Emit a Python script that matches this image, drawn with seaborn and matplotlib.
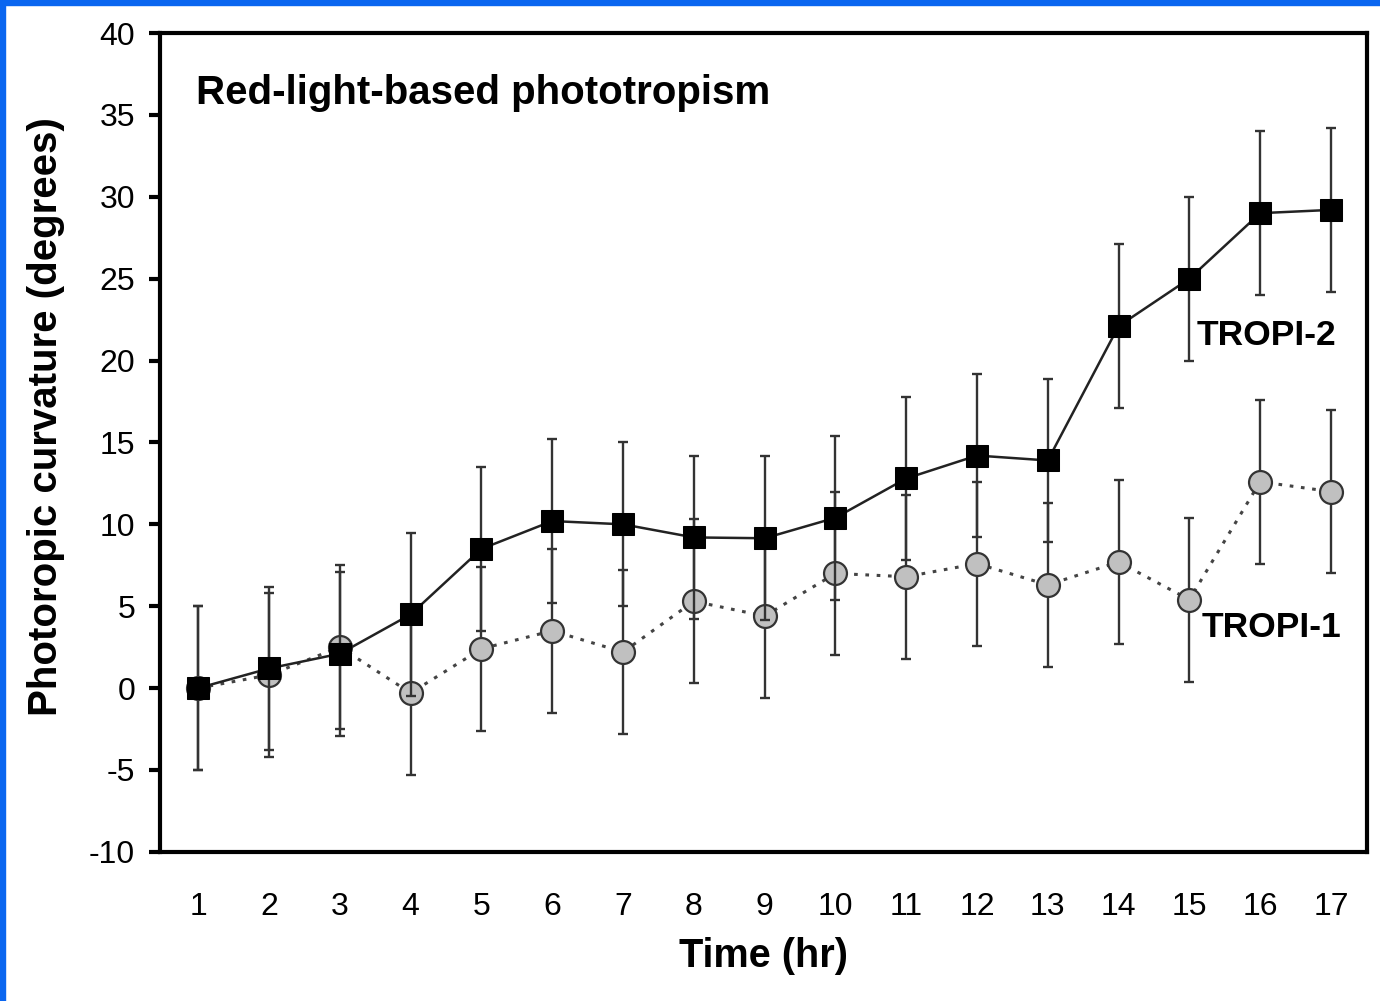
import numpy as np
import pandas as pd
import matplotlib
matplotlib.use("Agg")
import matplotlib.pyplot as plt
from matplotlib.patches import Rectangle
import seaborn as sns

# values
hours = list(range(1, 18))
tropi2 = [0.0, 1.2, 2.1, 4.5, 8.5, 10.2, 10.0, 9.2, 9.15, 10.4, 12.8, 14.2, 13.9, 22.1, 25.0, 29.0, 29.2]
tropi2_err = [5.0] * 17
tropi1 = [0.0, 0.8, 2.5, -0.3, 2.4, 3.5, 2.2, 5.3, 4.4, 7.0, 6.8, 7.6, 6.3, 7.7, 5.4, 12.6, 12.0]
tropi1_err = [5.0] * 17

df = pd.DataFrame({"hr": hours, "t1": tropi1, "t2": tropi2})

sns.set_style("ticks")
plt.rcParams["font.family"] = ["Liberation Sans", "DejaVu Sans"]
plt.rcParams["axes.unicode_minus"] = False
plt.rcParams["text.color"] = "black"
plt.rcParams["axes.labelcolor"] = "black"
plt.rcParams["xtick.color"] = "black"
plt.rcParams["ytick.color"] = "black"

fig = plt.figure(figsize=(13.8, 10.01), dpi=100)
ax = fig.add_axes([0.116, 0.149, 0.8746, 0.818])

# TROPI-1: gray circles, dotted line
ax.errorbar(hours, tropi1, yerr=tropi1_err, fmt="none", ecolor="#333333",
            elinewidth=1.7, capsize=3.8, capthick=1.7, zorder=2)
sns.lineplot(data=df, x="hr", y="t1", ax=ax, color="#444444", linestyle=(0, (1.2, 2.5)),
             linewidth=2.2, marker="o", markersize=16.5, markerfacecolor="#c0c0c0",
             markeredgecolor="#333333", markeredgewidth=1.6, zorder=3)

# TROPI-2: black squares, solid line
ax.errorbar(hours, tropi2, yerr=tropi2_err, fmt="none", ecolor="#333333",
            elinewidth=1.7, capsize=3.8, capthick=1.7, zorder=4)
sns.lineplot(data=df, x="hr", y="t2", ax=ax, color="#222222", linestyle="-",
             linewidth=1.8, marker="s", markersize=16.5, markerfacecolor="black",
             markeredgecolor="black", zorder=5)

ax.set_xlim(0.46, 17.51)
ax.set_ylim(-10, 40)
ax.set_xticks(hours)
ax.set_yticks(range(-10, 41, 5))
ax.tick_params(axis="x", length=0, pad=29, labelsize=23)
ax.tick_params(axis="y", length=8, width=3, pad=10, labelsize=23, direction="out")
for s in ax.spines.values():
    s.set_linewidth(3.0)
    s.set_color("black")
    s.set_visible(True)

ax.set_xlabel("Time (hr)", fontsize=28.5, fontweight="bold", labelpad=11)
ax.set_ylabel("Photoropic curvature (degrees)", fontsize=29, fontweight="bold")
ax.yaxis.set_label_coords(-0.079, 0.532)

ax.text(0.03, 0.927, "Red-light-based phototropism", transform=ax.transAxes,
        fontsize=29, fontweight="bold", va="center", ha="left")
ax.text(15.1, 21.5, "TROPI-2", fontsize=25.5, fontweight="bold", va="center", ha="left")
ax.text(15.17, 3.7, "TROPI-1", fontsize=25.5, fontweight="bold", va="center", ha="left")

# blue frame on left and top edges
fig.add_artist(Rectangle((0, 0), 5 / 1380, 1, transform=fig.transFigure, color="#0a66f0", zorder=10))
fig.add_artist(Rectangle((0, 1 - 5 / 1001), 1, 5 / 1001, transform=fig.transFigure, color="#0a66f0", zorder=10))

fig.savefig("out.png", dpi=100)
